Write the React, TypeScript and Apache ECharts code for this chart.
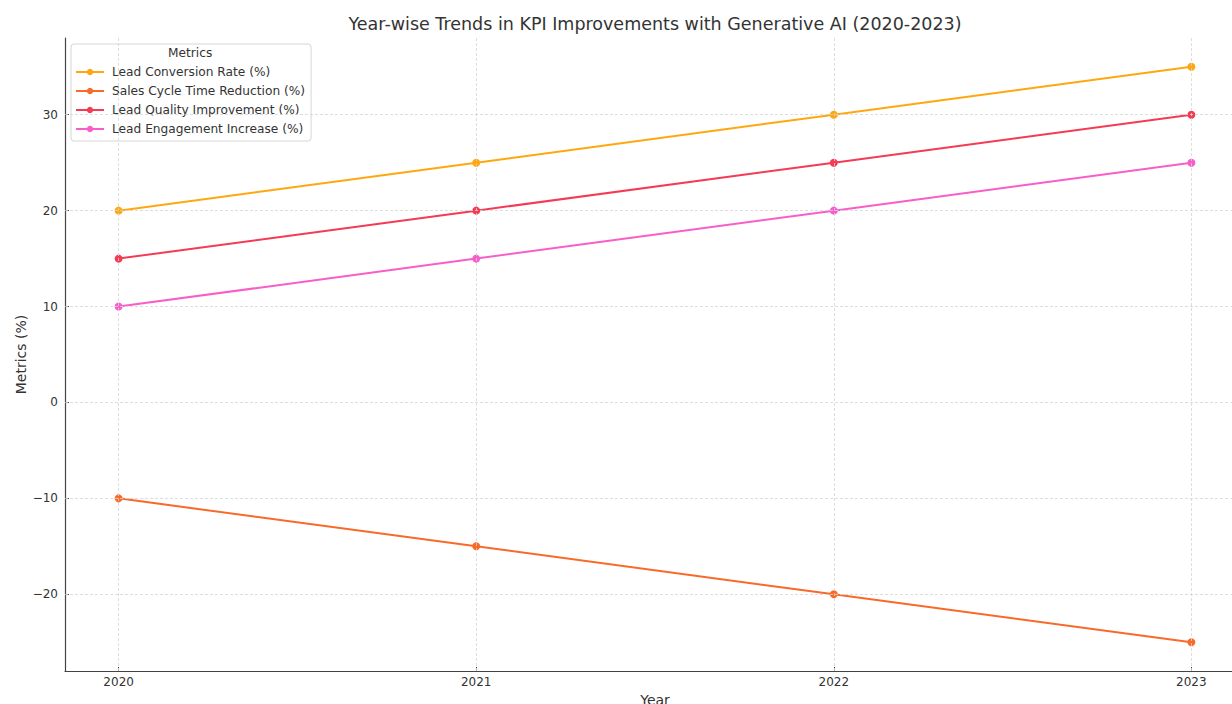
import React, { useEffect, useRef } from "react";
import * as echarts from "echarts";

const years = [2020, 2021, 2022, 2023];
const yTicks = [-20, -10, 0, 10, 20, 30];
const seriesNames = [
  "Lead Conversion Rate (%)",
  "Sales Cycle Time Reduction (%)",
  "Lead Quality Improvement (%)",
  "Lead Engagement Increase (%)",
];
const leadConversion = [20, 25, 30, 35];
const salesCycle = [-10, -15, -20, -25];
const leadQuality = [15, 20, 25, 30];
const leadEngagement = [10, 15, 20, 25];
const colors = ["#FFA70F", "#F96A28", "#F43A55", "#F85ECA"];

const FONT = "DejaVu Sans";

export default function App() {
  const ref = useRef<HTMLDivElement>(null);
  useEffect(() => {
    if (!ref.current) return;
    const chart = echarts.init(ref.current, null, { renderer: "svg" });
    const values = [leadConversion, salesCycle, leadQuality, leadEngagement];
    const gridStyle = { color: "#d4d4d4", type: [3, 2] as any, width: 0.8 };
    const series: any[] = [
      {
        name: "_grid",
        type: "line",
        data: [],
        silent: true,
        z: 0,
        markLine: {
          silent: true,
          symbol: "none",
          label: { show: false },
          lineStyle: gridStyle,
          emphasis: { disabled: true },
          animation: false,
          data: [
            ...years.map((y) => ({ xAxis: y })),
            ...yTicks.map((v) => ({ yAxis: v })),
          ],
        },
      },
      ...seriesNames.map((name, i) => ({
        name,
        type: "line",
        data: years.map((y, j) => [y, values[i][j]]),
        symbol: "circle",
        symbolSize: 8,
        color: colors[i],
        lineStyle: { width: 2, color: colors[i] },
        itemStyle: { color: colors[i] },
        z: 3,
      })),
    ];
    chart.setOption({
      animation: false,
      title: {
        text: "Year-wise Trends in KPI Improvements with Generative AI (2020-2023)",
        left: 650,
        textAlign: "center",
        top: 10,
        textStyle: { fontFamily: FONT, fontSize: 17.5, fontWeight: "normal", color: "#333" },
      },
      legend: {
        data: seriesNames,
        orient: "vertical",
        left: 71,
        top: 44,
        padding: [21, 6, 5, 4],
        itemGap: 5,
        itemWidth: 28,
        itemHeight: 8,
        backgroundColor: "rgba(255,255,255,0.85)",
        borderColor: "#d6d6d6",
        borderWidth: 1,
        borderRadius: 3,
        textStyle: {
          fontFamily: FONT,
          fontSize: 12.2,
          color: "#333",
          padding: [0, 0, 0, 3],
          lineHeight: 14,
        },
      },
      graphic: [
        {
          type: "text",
          left: 168,
          top: 47,
          z: 100,
          style: { text: "Metrics", fontFamily: FONT, fontSize: 12.2, fill: "#333" },
        },
      ],
      grid: {
        left: 65,
        top: 38,
        bottom: 33,
        right: -13,
        containLabel: false,
        outerBoundsMode: "none",
      },
      xAxis: {
        type: "value",
        min: 2019.85,
        max: 2023.15,
        name: "Year",
        nameLocation: "middle",
        nameGap: 21,
        nameTextStyle: { fontFamily: FONT, fontSize: 14, color: "#333" },
        axisLine: { show: true, onZero: false, lineStyle: { color: "#444", width: 1.2 } },
        axisTick: { show: true, inside: true, length: 4, customValues: years, lineStyle: { color: "#444" } },
        axisLabel: {
          customValues: years,
          formatter: (v: number) => String(Math.round(v)),
          fontFamily: FONT,
          fontSize: 12,
          color: "#333",
          margin: 5,
        },
        splitLine: { show: false },
      },
      yAxis: {
        type: "value",
        min: -28,
        max: 38,
        name: "Metrics (%)",
        nameLocation: "middle",
        nameGap: 37,
        nameMoveOverlap: false,
        nameTextStyle: { fontFamily: FONT, fontSize: 14, color: "#333" },
        axisLine: { show: true, onZero: false, lineStyle: { color: "#444", width: 1.2 } },
        axisTick: { show: true, inside: true, length: 4, customValues: yTicks, lineStyle: { color: "#444" } },
        axisLabel: {
          customValues: yTicks,
          formatter: (v: number) => (v < 0 ? "\u2212" + Math.abs(v) : String(v)),
          fontFamily: FONT,
          fontSize: 12,
          color: "#333",
          margin: 7,
        },
        splitLine: { show: false },
      },
      series,
    });
    return () => chart.dispose();
  }, []);
  return (
    <div
      ref={ref}
      style={{ position: "fixed", left: 0, top: 0, width: 1232, height: 704, background: "#fff" }}
    />
  );
}
